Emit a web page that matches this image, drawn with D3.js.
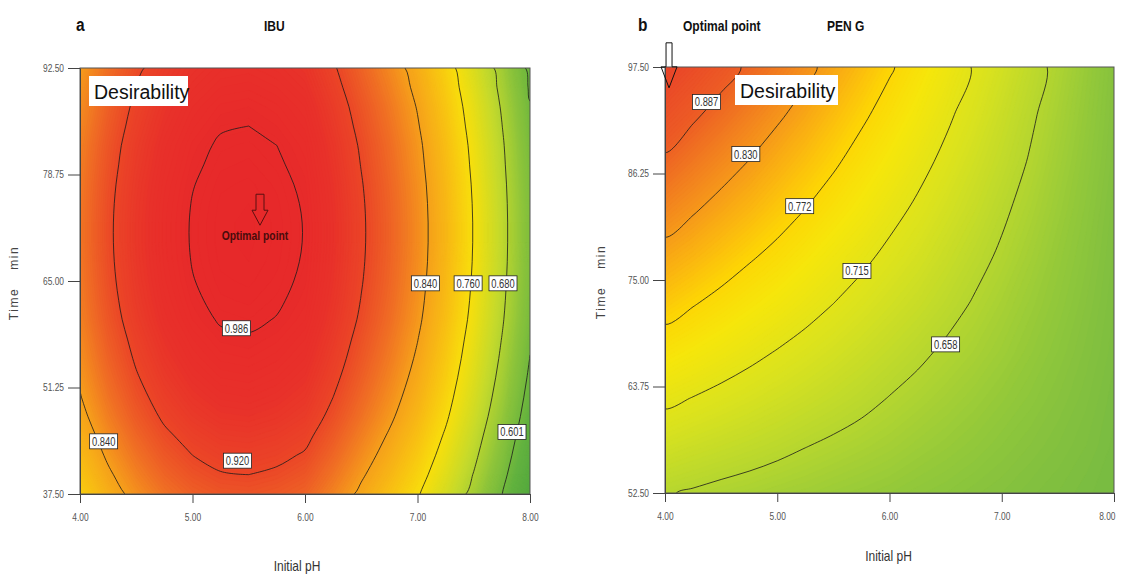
<!DOCTYPE html>
<html>
<head>
<meta charset="utf-8">
<script src="https://cdn.jsdelivr.net/npm/d3@7.9.0/dist/d3.min.js"></script>
<style>
  body { margin: 0; background: #fff; }
  svg { display: block; }
  text { font-family: "Liberation Sans", Arial, sans-serif; }
  .tick text { fill: #555; font-size: 10.5px; }
  .tick line, .domain { stroke: #444; }
</style>
</head>
<body>
<svg id="chart" width="1121" height="574"></svg>
<script>
// ---- panel a : IBU ----
const phA = [4.00, 4.25, 4.50, 4.75, 5.00, 5.25, 5.50, 5.75, 6.00, 6.25, 6.50, 6.75, 7.00, 7.25, 7.50, 7.75, 8.00];
const timeA = [92.5, 90.0, 87.5, 85.0, 82.5, 80.0, 77.5, 75.0, 72.5, 70.0, 67.5, 65.0, 62.5, 60.0, 57.5, 55.0, 52.5, 50.0, 47.5, 45.0, 42.5, 40.0, 37.5];
// desirability, one row per time (top to bottom)
const desA = [
  [0.842, 0.881, 0.913, 0.938, 0.955, 0.965, 0.967, 0.962, 0.952, 0.924, 0.892, 0.860, 0.824, 0.779, 0.725, 0.662, 0.589],
  [0.849, 0.888, 0.920, 0.945, 0.962, 0.972, 0.974, 0.969, 0.959, 0.931, 0.899, 0.867, 0.831, 0.786, 0.732, 0.669, 0.596],
  [0.856, 0.895, 0.927, 0.952, 0.969, 0.979, 0.981, 0.976, 0.966, 0.938, 0.906, 0.874, 0.838, 0.793, 0.739, 0.676, 0.603],
  [0.861, 0.900, 0.932, 0.957, 0.974, 0.984, 0.986, 0.981, 0.971, 0.943, 0.911, 0.879, 0.843, 0.798, 0.744, 0.681, 0.608],
  [0.866, 0.905, 0.937, 0.962, 0.979, 0.989, 0.991, 0.986, 0.976, 0.948, 0.916, 0.884, 0.848, 0.803, 0.749, 0.686, 0.613],
  [0.869, 0.908, 0.940, 0.965, 0.982, 0.992, 0.994, 0.989, 0.979, 0.951, 0.919, 0.887, 0.851, 0.806, 0.752, 0.689, 0.616],
  [0.872, 0.911, 0.943, 0.968, 0.985, 0.995, 0.997, 0.992, 0.982, 0.954, 0.922, 0.890, 0.854, 0.809, 0.755, 0.692, 0.619],
  [0.874, 0.913, 0.945, 0.970, 0.987, 0.997, 0.999, 0.994, 0.984, 0.956, 0.924, 0.892, 0.856, 0.811, 0.757, 0.694, 0.621],
  [0.875, 0.914, 0.946, 0.971, 0.988, 0.998, 1.000, 0.995, 0.985, 0.957, 0.925, 0.893, 0.857, 0.812, 0.758, 0.695, 0.622],
  [0.875, 0.914, 0.946, 0.971, 0.988, 0.998, 1.000, 0.995, 0.985, 0.957, 0.925, 0.893, 0.857, 0.812, 0.758, 0.695, 0.622],
  [0.874, 0.913, 0.945, 0.970, 0.987, 0.997, 0.999, 0.994, 0.984, 0.956, 0.924, 0.892, 0.856, 0.811, 0.757, 0.694, 0.621],
  [0.872, 0.911, 0.943, 0.968, 0.985, 0.995, 0.997, 0.992, 0.982, 0.954, 0.922, 0.890, 0.854, 0.809, 0.755, 0.692, 0.619],
  [0.869, 0.908, 0.940, 0.965, 0.982, 0.992, 0.994, 0.989, 0.979, 0.951, 0.919, 0.887, 0.851, 0.806, 0.752, 0.689, 0.616],
  [0.865, 0.904, 0.936, 0.961, 0.978, 0.988, 0.990, 0.985, 0.975, 0.947, 0.915, 0.883, 0.847, 0.802, 0.748, 0.685, 0.612],
  [0.859, 0.898, 0.930, 0.955, 0.972, 0.982, 0.984, 0.979, 0.969, 0.941, 0.909, 0.877, 0.841, 0.796, 0.742, 0.679, 0.606],
  [0.853, 0.892, 0.924, 0.949, 0.966, 0.976, 0.978, 0.973, 0.963, 0.935, 0.903, 0.871, 0.835, 0.790, 0.736, 0.673, 0.600],
  [0.846, 0.885, 0.917, 0.942, 0.959, 0.969, 0.971, 0.966, 0.956, 0.928, 0.896, 0.864, 0.828, 0.783, 0.729, 0.666, 0.593],
  [0.838, 0.877, 0.909, 0.934, 0.951, 0.961, 0.963, 0.958, 0.948, 0.920, 0.888, 0.856, 0.820, 0.775, 0.721, 0.658, 0.585],
  [0.829, 0.868, 0.900, 0.925, 0.942, 0.952, 0.954, 0.949, 0.939, 0.911, 0.879, 0.847, 0.811, 0.766, 0.712, 0.649, 0.576],
  [0.818, 0.857, 0.889, 0.914, 0.931, 0.941, 0.943, 0.938, 0.928, 0.900, 0.868, 0.836, 0.800, 0.755, 0.701, 0.638, 0.565],
  [0.807, 0.846, 0.878, 0.903, 0.920, 0.930, 0.932, 0.927, 0.917, 0.889, 0.857, 0.825, 0.789, 0.744, 0.690, 0.627, 0.554],
  [0.795, 0.834, 0.866, 0.891, 0.908, 0.918, 0.920, 0.915, 0.905, 0.877, 0.845, 0.813, 0.777, 0.732, 0.678, 0.615, 0.542],
  [0.782, 0.821, 0.853, 0.878, 0.895, 0.905, 0.907, 0.902, 0.892, 0.864, 0.832, 0.800, 0.764, 0.719, 0.665, 0.602, 0.529]
];
const levelsA = [0.601, 0.680, 0.760, 0.840, 0.920, 0.986];
const labelTextA = ['0.986', '0.920', '0.840', '0.840', '0.760', '0.680', '0.601'];
const labelPhA = [5.39, 5.40, 4.21, 7.07, 7.45, 7.76, 7.84];
const labelTimeA = [58.9, 41.8, 44.3, 64.7, 64.7, 64.7, 45.5];
const yTicksA = [37.5, 51.25, 65.0, 78.75, 92.5];
const colorStopsA = [0.53, 0.58, 0.64, 0.70, 0.76, 0.80, 0.84, 0.86, 0.88, 0.90, 0.92, 0.96, 1.0];
const colorsA = ['#54a93e', '#63b23f', '#8dc43b', '#c5da2c', '#f8df0c', '#f8c013', '#f6a01b', '#f3881f', '#f07024', '#ed5a26', '#eb4627', '#e8302a', '#e7282a'];
const optimalA = [5.60, 72.2];

// ---- panel b : PEN G ----
const phB = [4.00, 4.25, 4.50, 4.75, 5.00, 5.25, 5.50, 5.75, 6.00, 6.25, 6.50, 6.75, 7.00, 7.25, 7.50, 7.75, 8.00];
const timeB = [97.5, 92.5, 87.5, 82.5, 77.5, 72.5, 67.5, 62.5, 57.5, 52.5];
const desB = [
  [0.944, 0.923, 0.902, 0.881, 0.860, 0.839, 0.818, 0.797, 0.776, 0.755, 0.734, 0.713, 0.692, 0.671, 0.650, 0.629, 0.608],
  [0.912, 0.893, 0.874, 0.855, 0.836, 0.817, 0.797, 0.778, 0.759, 0.740, 0.721, 0.702, 0.682, 0.663, 0.644, 0.625, 0.606],
  [0.881, 0.863, 0.846, 0.829, 0.811, 0.794, 0.777, 0.759, 0.742, 0.725, 0.708, 0.690, 0.673, 0.656, 0.638, 0.621, 0.604],
  [0.849, 0.834, 0.818, 0.803, 0.787, 0.772, 0.756, 0.741, 0.725, 0.710, 0.694, 0.679, 0.663, 0.648, 0.632, 0.617, 0.601],
  [0.817, 0.804, 0.790, 0.776, 0.763, 0.749, 0.735, 0.722, 0.708, 0.695, 0.681, 0.667, 0.654, 0.640, 0.626, 0.613, 0.599],
  [0.786, 0.774, 0.762, 0.750, 0.739, 0.727, 0.715, 0.703, 0.691, 0.680, 0.668, 0.656, 0.644, 0.632, 0.621, 0.609, 0.597],
  [0.754, 0.744, 0.734, 0.724, 0.714, 0.704, 0.694, 0.684, 0.674, 0.664, 0.654, 0.645, 0.635, 0.625, 0.615, 0.605, 0.595],
  [0.722, 0.714, 0.706, 0.698, 0.690, 0.682, 0.674, 0.666, 0.657, 0.649, 0.641, 0.633, 0.625, 0.617, 0.609, 0.601, 0.592],
  [0.691, 0.684, 0.678, 0.672, 0.666, 0.659, 0.653, 0.647, 0.641, 0.634, 0.628, 0.622, 0.615, 0.609, 0.603, 0.597, 0.590],
  [0.660, 0.655, 0.650, 0.646, 0.641, 0.637, 0.632, 0.628, 0.624, 0.619, 0.615, 0.610, 0.606, 0.601, 0.597, 0.592, 0.588]
];
const levelsB = [0.658, 0.715, 0.772, 0.830, 0.887];
const labelTextB = ['0.887', '0.830', '0.772', '0.715', '0.658'];
const labelPhB = [4.37, 4.72, 5.20, 5.71, 6.50];
const labelTimeB = [93.8, 88.3, 82.8, 75.95, 68.2];
const yTicksB = [52.5, 63.75, 75.0, 86.25, 97.5];
const colorStopsB = [0.58, 0.62, 0.66, 0.70, 0.745, 0.775, 0.80, 0.83, 0.86, 0.89, 0.95];
const colorsB = ['#72b843', '#90c73b', '#b7d72f', '#d9e21f', '#f6e60b', '#fdd505', '#fbb90f', '#f6991a', '#f17a20', '#ed5c25', '#e8402a'];
const optimalB = [4.036, 95.3];

const xTicks = [4, 5, 6, 7, 8];

const svg = d3.select('#chart');

// squeeze text horizontally to imitate the narrow font of the original
function narrow(sel, k) {
  sel.each(function () {
    const w = this.getComputedTextLength();
    d3.select(this).attr('textLength', w * k).attr('lengthAdjust', 'spacingAndGlyphs');
  });
}

function drawPanel(p) {
  const n = p.ph.length, m = p.time.length;
  const x = d3.scaleLinear().domain([p.ph[0], p.ph[n - 1]]).range([p.left, p.right]);
  const y = d3.scaleLinear().domain([p.time[m - 1], p.time[0]]).range([p.bottom, p.top]);
  // grid coordinates from d3.contours -> data values
  const gPh = d3.scaleLinear().domain([0.5, n - 0.5]).range([p.ph[0], p.ph[n - 1]]);
  const gT = d3.scaleLinear().domain([0.5, m - 0.5]).range([p.time[0], p.time[m - 1]]);
  const proj = d3.geoTransform({
    point(px, py) { this.stream.point(x(gPh(px)), y(gT(py))); }
  });
  const path = d3.geoPath(proj);
  const color = d3.scaleLinear().domain(p.stops).range(p.colors).clamp(true);
  const flat = p.values.flat();

  const g = svg.append('g');
  g.append('clipPath').attr('id', 'clip-' + p.id)
    .append('rect')
    .attr('x', p.left).attr('y', p.top)
    .attr('width', p.right - p.left).attr('height', p.bottom - p.top);

  const plot = g.append('g').attr('clip-path', `url(#clip-${p.id})`);

  // colour fill
  const step = 0.003;
  const bands = d3.contours().size([n, m]).thresholds(d3.range(0.45, 1.0005, step))(flat);
  plot.append('g').selectAll('path')
    .data(bands)
    .join('path')
    .attr('d', path)
    .attr('fill', (d) => color(d.value + step / 2))
    .attr('stroke', (d) => color(d.value + step / 2))
    .attr('stroke-width', 0.4);

  // contour lines
  const line = d3.line().curve(d3.curveCatmullRomClosed.alpha(0.5));
  const lines = d3.contours().size([n, m]).thresholds(p.levels)(flat);
  lines.forEach((c) => {
    c.coordinates.forEach((poly) => {
      poly.forEach((ring) => {
        const pts = ring.slice(0, -1).map(([px, py]) => [x(gPh(px)), y(gT(py))]);
        plot.append('path')
          .attr('d', line(pts))
          .attr('fill', 'none')
          .attr('stroke', '#1a1a1a')
          .attr('stroke-width', 0.8);
      });
    });
  });

  // frame
  g.append('rect')
    .attr('x', p.left).attr('y', p.top)
    .attr('width', p.right - p.left).attr('height', p.bottom - p.top)
    .attr('fill', 'none').attr('stroke', '#555').attr('stroke-width', 1);

  // axes
  const xg = g.append('g')
    .attr('transform', `translate(0,${p.bottom})`)
    .call(d3.axisBottom(x).tickValues(xTicks).tickFormat(d3.format('.2f')).tickSize(9).tickPadding(11).tickSizeOuter(0));
  const yg = g.append('g')
    .attr('transform', `translate(${p.left},0)`)
    .call(d3.axisLeft(y).tickValues(p.yTicks).tickFormat(d3.format('.2f')).tickSize(12).tickPadding(4).tickSizeOuter(0));
  narrow(xg.selectAll('text'), 0.8);
  narrow(yg.selectAll('text'), 0.8);

  // contour labels
  p.labelText.forEach((t, i) => {
    const cx = x(p.labelPh[i]), cy = y(p.labelTime[i]);
    const lg = g.append('g').attr('transform', `translate(${cx},${cy})`);
    lg.append('rect').attr('x', -14).attr('y', -7.5).attr('width', 28).attr('height', 15)
      .attr('fill', '#fff').attr('stroke', '#222').attr('stroke-width', 0.8);
    lg.append('text').attr('text-anchor', 'middle').attr('dy', '0.37em')
      .attr('font-size', 12).attr('fill', '#333').text(t)
      .call(narrow, 0.78);
  });

  // legend box
  g.append('rect').attr('x', p.left + p.boxDx).attr('y', p.top + 8)
    .attr('width', p.boxW).attr('height', 30).attr('fill', '#fff');
  g.append('text').attr('x', p.left + p.boxDx + 5).attr('y', p.top + 31)
    .attr('font-size', 19.5).attr('fill', '#111').text('Desirability');

  // axis titles
  g.append('text').attr('x', (p.left + p.right) / 2 + p.xTitleDx).attr('y', p.xTitleY)
    .attr('text-anchor', 'middle').attr('font-size', 15).attr('fill', '#333').text('Initial pH')
    .call(narrow, 0.8);
  g.append('text')
    .attr('transform', `translate(${p.yTitleX},${(p.top + p.bottom) / 2 + 2}) rotate(-90)`)
    .attr('text-anchor', 'middle').attr('dy', '0.35em')
    .attr('font-family', '"DejaVu Sans", Verdana, sans-serif')
    .attr('font-size', 12).attr('letter-spacing', 1.6).attr('word-spacing', 13)
    .attr('fill', '#444').text('Time min');

  return { x, y, g, xg };
}

const pa = drawPanel({
  id: 'a', left: 80, right: 530, top: 68, bottom: 494,
  ph: phA, time: timeA, values: desA, levels: levelsA,
  labelText: labelTextA, labelPh: labelPhA, labelTime: labelTimeA,
  yTicks: yTicksA, stops: colorStopsA, colors: colorsA,
  boxDx: 9, boxW: 99, xTitleY: 571, xTitleDx: -8, yTitleX: 14
});
const pb = drawPanel({
  id: 'b', left: 665, right: 1114, top: 67, bottom: 493,
  ph: phB, time: timeB, values: desB, levels: levelsB,
  labelText: labelTextB, labelPh: labelPhB, labelTime: labelTimeB,
  yTicks: yTicksB, stops: colorStopsB, colors: colorsB,
  boxDx: 70, boxW: 103, xTitleY: 561, xTitleDx: -1, yTitleX: 601
});
// keep the last tick label of panel b inside the page
pb.xg.selectAll('.tick:last-of-type text').attr('text-anchor', 'end').attr('x', 1);

// optimal point markers
const ax = pa.x(optimalA[0]), ay = pa.y(optimalA[1]);
pa.g.append('path')
  .attr('transform', `translate(${ax},${ay})`)
  .attr('d', 'M0,0L-8,-15L-4,-15L-4,-31L4,-31L4,-15L8,-15Z')
  .attr('fill', 'none').attr('stroke', '#5a1010').attr('stroke-width', 1);
pa.g.append('text').attr('x', ax - 5).attr('y', ay + 15)
  .attr('text-anchor', 'middle').attr('font-size', 12).attr('font-weight', 'bold')
  .attr('fill', '#4a0c0c').text('Optimal point')
  .call(narrow, 0.86);

const bx = pb.x(optimalB[0]), by = pb.y(optimalB[1]);
pb.g.append('path')
  .attr('transform', `translate(${bx},${by})`)
  .attr('d', 'M0,0L-8,-21L-3,-21L-3,-45L3,-45L3,-21L8,-21Z')
  .attr('fill', 'none').attr('stroke', '#111').attr('stroke-width', 1);

// titles
const titles = [
  { t: 'a', x: 76, size: 18 },
  { t: 'IBU', x: 264, size: 14 },
  { t: 'b', x: 638, size: 18 },
  { t: 'Optimal point', x: 683, size: 14 },
  { t: 'PEN G', x: 827, size: 14 }
];
svg.selectAll('text.title')
  .data(titles)
  .join('text')
  .attr('class', 'title')
  .attr('x', (d) => d.x).attr('y', 31)
  .attr('font-size', (d) => d.size).attr('font-weight', 'bold').attr('fill', '#111')
  .text((d) => d.t)
  .call(narrow, 0.86);
</script>
</body>
</html>
